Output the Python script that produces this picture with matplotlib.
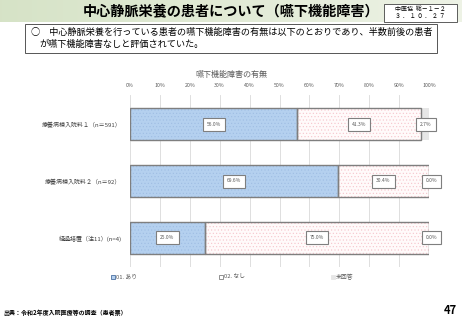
import matplotlib.pyplot as plt
import numpy as np
from matplotlib.patches import Rectangle

plt.rcParams['font.family'] = ['Noto Sans CJK JP', 'DejaVu Sans']
plt.rcParams['hatch.linewidth'] = 0.4

categories = ['療養病棟入院料１（n＝591）', '療養病棟入院料２（n＝92）', '経過措置（注11）(n=4)']
ari = [56.0, 69.6, 25.0]
nashi = [41.3, 30.4, 75.0]
mikaito = [2.7, 0.0, 0.0]
series_names = ['01. あり', '02. なし', '未回答']
ticks = [0, 10, 20, 30, 40, 50, 60, 70, 80, 90, 100]

W, H = 462, 320
fig = plt.figure(figsize=(W / 100, H / 100), dpi=100)


def fx(x):
    return x / W


def fy(y):
    return 1 - y / H


# header band
band = fig.add_axes([0, fy(22), 1, 22 / H])
grad = np.linspace(0, 1, 256).reshape(1, -1)
c1 = np.array([0.84, 0.89, 0.78])
c2 = np.array([0.93, 0.95, 0.90])
img = c1[None, None, :] * (1 - grad[..., None]) + c2[None, None, :] * grad[..., None]
band.imshow(img, aspect='auto', extent=[0, 1, 0, 1])
band.axis('off')

fig.text(fx(231), fy(12), '中心静脈栄養の患者について（嚥下機能障害）',
         ha='center', va='center', fontsize=10.2, fontweight='bold')
fig.patches.append(Rectangle((fx(384), fy(22)), fx(73), 18 / H, transform=fig.transFigure,
                             facecolor='white', edgecolor='#444444', lw=0.6))
fig.text(fx(420), fy(9), '中医協  総－１－２', ha='center', va='center', fontsize=4.3)
fig.text(fx(420), fy(17), '３ ． １ ０ ． ２ ７', ha='center', va='center', fontsize=4.3)

# summary box
fig.patches.append(Rectangle((fx(25), fy(53)), fx(412), 29 / H, transform=fig.transFigure,
                             facecolor='white', edgecolor='#555555', lw=0.7))
fig.text(fx(31), fy(32), '○　中心静脈栄養を行っている患者の嚥下機能障害の有無は以下のとおりであり、半数前後の患者',
         ha='left', va='center', fontsize=6.6)
fig.text(fx(39), fy(44), 'が嚥下機能障害なしと評価されていた。',
         ha='left', va='center', fontsize=6.6)

fig.text(fx(231), fy(74), '嚥下機能障害の有無', ha='center', va='center', fontsize=5.8, color='#595959')

# chart
ax = fig.add_axes([fx(130), fy(267), fx(429 - 130), (267 - 95) / H])
y = np.arange(len(categories))
h = 0.56
blue = '#b4d0ef'
left3 = np.array(ari) + np.array(nashi)

ax.barh(y, ari, height=h, color=blue, edgecolor='#9fbde3', hatch='.....', lw=0, zorder=2)
ax.barh(y, nashi, left=ari, height=h, color='#fffafa', edgecolor='#f5c4cb', hatch='.....', lw=0, zorder=2)
ax.barh(y, mikaito, left=left3, height=h, color='#e6e6e6', lw=0, zorder=2)
ax.barh(y, ari, height=h, fill=False, edgecolor='#7f7f7f', lw=1.0, zorder=3)
ax.barh(y, nashi, left=ari, height=h, fill=False, edgecolor='#7f7f7f', lw=1.0, zorder=3)

box = dict(boxstyle='square,pad=0.8', facecolor='white', edgecolor='#7f7f7f', lw=0.8)
for i in range(len(categories)):
    ax.text(ari[i] / 2, y[i], f'{ari[i]:.1f}%', ha='center', va='center', fontsize=3.6,
            color='#595959', bbox=box, zorder=5)
    ax.text(ari[i] + nashi[i] / 2, y[i], f'{nashi[i]:.1f}%', ha='center', va='center', fontsize=3.6,
            color='#595959', bbox=box, zorder=5)
    ax.text(left3[i] + mikaito[i] / 2 + (0.3 if mikaito[i] > 0 else 0.8), y[i], f'{mikaito[i]:.1f}%',
            ha='center', va='center', fontsize=3.6, color='#595959', bbox=box, zorder=5)

ax.set_xlim(0, 100)
ax.set_ylim(len(categories) - 1 + 0.509, -0.509)
ax.set_xticks(ticks)
ax.set_xticklabels([f'{t}%' for t in ticks], fontsize=3.8, color='#595959')
ax.xaxis.tick_top()
ax.tick_params(axis='x', length=0, pad=5)
ax.set_yticks(y)
ax.set_yticklabels(categories, fontsize=4.3, color='#404040')
ax.tick_params(axis='y', length=0, pad=6)
ax.grid(axis='x', color='#d9d9d9', lw=0.6, zorder=0)
for s in ax.spines.values():
    s.set_visible(False)

# legend
leg_x = [113, 221, 333]
leg_fc = [blue, 'white', '#e6e6e6']
leg_ec = ['#4a6fa0', '#7f7f7f', '#e6e6e6']
for lx, name, fc, ec in zip(leg_x, series_names, leg_fc, leg_ec):
    fig.patches.append(Rectangle((fx(lx - 2), fy(279)), 4 / W, 4 / H, transform=fig.transFigure,
                                 facecolor=fc, edgecolor=ec, lw=0.6))
    fig.text(fx(lx + 3), fy(277), name, ha='left', va='center', fontsize=4.2, color='#595959')

fig.text(fx(3), fy(312), '出典：令和2年度入院医療等の調査（患者票）', ha='left', va='center',
         fontsize=4.3, fontweight='bold')
fig.text(fx(457), fy(311), '47', ha='right', va='center', fontsize=8, fontweight='bold')

fig.savefig('out.png', dpi=100)
